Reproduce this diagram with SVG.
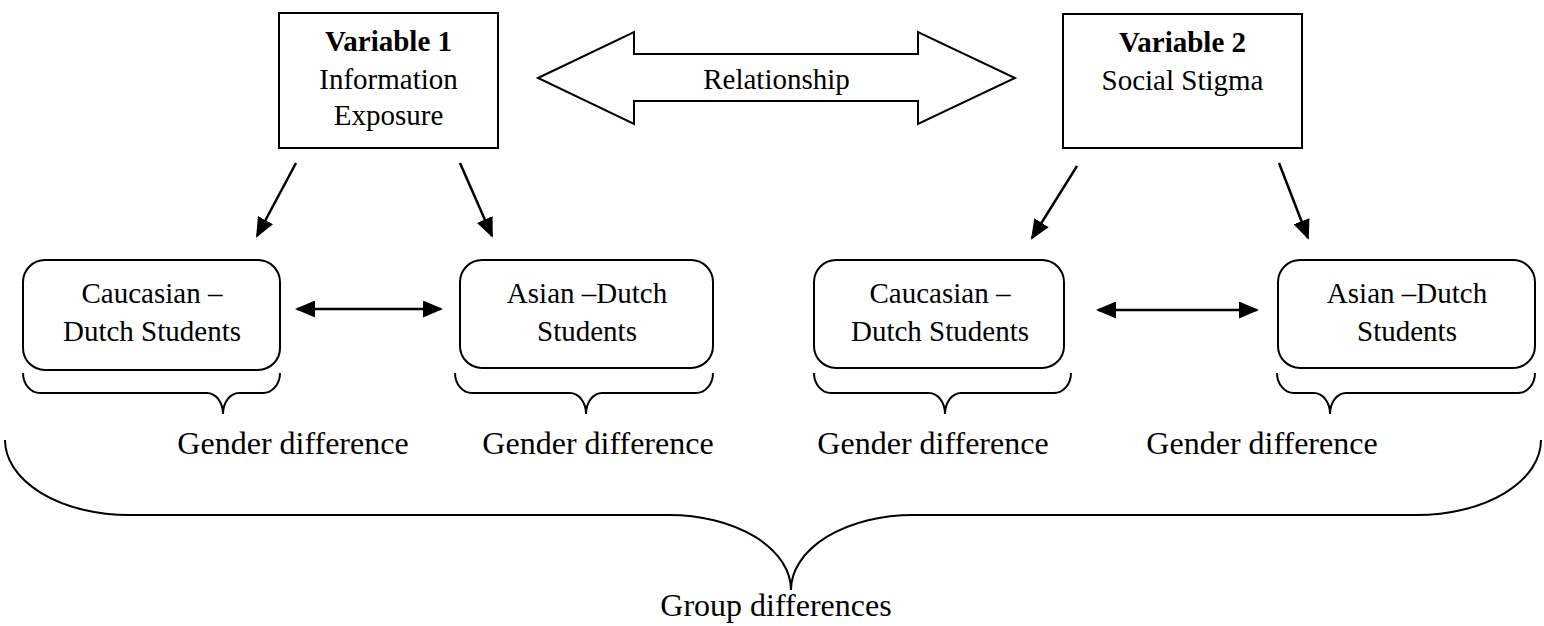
<svg xmlns="http://www.w3.org/2000/svg" width="1544" height="626" viewBox="0 0 1544 626">
  <style>
    .box { fill: #fff; stroke: #000; stroke-width: 2; }
    .t { font-family: "Liberation Serif", "Times New Roman", serif; font-size: 29px; fill: #000; text-anchor: middle; }
    .b { font-weight: bold; }
    .lg { font-size: 32px; }
    .ln { fill: none; stroke: #000; stroke-width: 2.5; }
    .br { fill: none; stroke: #000; stroke-width: 2; }
  </style>
  <defs>
    <marker id="ah2" viewBox="0 0 20 17" refX="18" refY="8.5" markerWidth="20" markerHeight="17" markerUnits="userSpaceOnUse" orient="auto-start-reverse">
      <path d="M0,0 L20,8.5 L0,17 z" fill="#000"/>
    </marker>
  </defs>

  <g id="var1">
    <rect class="box" x="279" y="13" width="219" height="135"/>
    <text class="t b" x="388.5" y="51">Variable 1</text>
    <text class="t" x="388.5" y="89">Information</text>
    <text class="t" x="388.5" y="125">Exposure</text>
  </g>

  <g id="var2">
    <rect class="box" x="1063" y="14" width="239" height="134"/>
    <text class="t b" x="1182.5" y="52">Variable 2</text>
    <text class="t" x="1182.5" y="90">Social Stigma</text>
  </g>

  <g id="relationship">
    <path class="box" d="M538,78 L634,32 L634,54 L918,54 L918,32 L1015,78 L918,124 L918,101 L634,101 L634,124 Z"/>
    <text class="t" x="776.5" y="89">Relationship</text>
  </g>

  <g id="cd1">
    <rect class="box" x="23" y="260" width="257" height="110" rx="22"/>
    <text class="t" x="152" y="303">Caucasian –</text>
    <text class="t" x="152" y="341">Dutch Students</text>
  </g>
  <g id="ad1">
    <rect class="box" x="460" y="260" width="253" height="108" rx="22"/>
    <text class="t" x="587" y="303">Asian –Dutch</text>
    <text class="t" x="587" y="341">Students</text>
  </g>
  <g id="cd2">
    <rect class="box" x="814" y="260" width="250" height="108" rx="22"/>
    <text class="t" x="940" y="303">Caucasian –</text>
    <text class="t" x="940" y="341">Dutch Students</text>
  </g>
  <g id="ad2">
    <rect class="box" x="1278" y="260" width="257" height="108" rx="22"/>
    <text class="t" x="1407" y="303">Asian –Dutch</text>
    <text class="t" x="1407" y="341">Students</text>
  </g>

  <g id="connectors">
    <line class="ln" x1="296" y1="163" x2="257" y2="236" marker-end="url(#ah2)"/>
    <line class="ln" x1="460" y1="163" x2="492" y2="236" marker-end="url(#ah2)"/>
    <line class="ln" x1="1077" y1="166" x2="1032" y2="238" marker-end="url(#ah2)"/>
    <line class="ln" x1="1279" y1="163" x2="1308" y2="238" marker-end="url(#ah2)"/>
    <line class="ln" x1="297" y1="309" x2="441" y2="309" marker-start="url(#ah2)" marker-end="url(#ah2)"/>
    <line class="ln" x1="1098" y1="310" x2="1257" y2="310" marker-start="url(#ah2)" marker-end="url(#ah2)"/>
  </g>

  <g id="braces">
    <path class="br" d="M23,373 A17,20 0 0 0 40,393 L207,393 A16,21 0 0 1 223,414 A16,21 0 0 1 239,393 L263,393 A17,20 0 0 0 280,373"/>
    <path class="br" d="M455,373 A17,20 0 0 0 472,393 L570,393 A16,21 0 0 1 586,414 A16,21 0 0 1 602,393 L696,393 A17,20 0 0 0 713,373"/>
    <path class="br" d="M814,373 A17,20 0 0 0 831,393 L929,393 A16,21 0 0 1 945,414 A16,21 0 0 1 961,393 L1054,393 A17,20 0 0 0 1071,373"/>
    <path class="br" d="M1277,373 A17,20 0 0 0 1294,393 L1314,393 A16,21 0 0 1 1330,414 A16,21 0 0 1 1346,393 L1518,393 A17,20 0 0 0 1535,373"/>
    <path class="br" d="M5,440 A124,75 0 0 0 129,515 L669,515 A122,75 0 0 1 791,590 A122,75 0 0 1 913,515 L1417,515 A124,75 0 0 0 1541,440"/>
  </g>

  <g id="labels">
    <text class="t lg" x="293" y="454">Gender difference</text>
    <text class="t lg" x="598" y="454">Gender difference</text>
    <text class="t lg" x="933" y="454">Gender difference</text>
    <text class="t lg" x="1262" y="454">Gender difference</text>
    <text class="t lg" x="776" y="616">Group differences</text>
  </g>
</svg>
